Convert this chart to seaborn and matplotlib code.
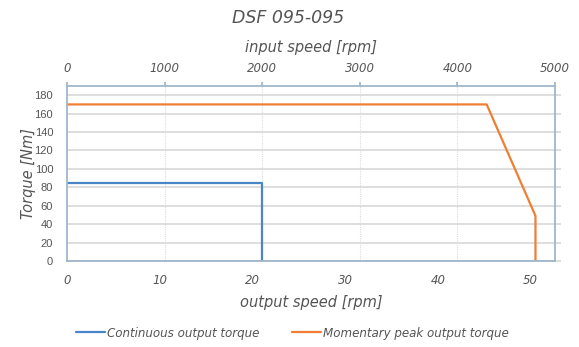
import matplotlib
matplotlib.use("Agg")
import matplotlib.pyplot as plt
import seaborn as sns
import pandas as pd
from matplotlib.lines import Line2D

sns.set_theme(style="white")
plt.rcParams['font.family'] = ['DejaVu Sans']

ratio = 95.0
cont_input = [0, 2000, 2000]
cont_torque = [85, 85, 0]
peak_input = [0, 4300, 4800, 4800]
peak_torque = [170, 170, 49, 0]
y_ticks = [0, 20, 40, 60, 80, 100, 120, 140, 160, 180]
top_ticks = [0, 1000, 2000, 3000, 4000, 5000]
bottom_ticks = [0, 10, 20, 30, 40, 50]
series_names = ["Continuous output torque", "Momentary peak output torque"]

df = pd.concat([
    pd.DataFrame({"input": cont_input, "torque": cont_torque, "series": series_names[0]}),
    pd.DataFrame({"input": peak_input, "torque": peak_torque, "series": series_names[1]}),
])

fig = plt.figure(figsize=(5.79, 3.47), dpi=100)
ax = fig.add_axes([67/579, 1-261/347, (555-67)/579, (261-86)/347])

blue = "#4787C7"
orange = "#F07E33"
txt = "#555555"
spine = "#9fb6cb"
ax.set_ylim(0, 190)
ax.set_xlim(0, 5000)
ax.set_yticks(y_ticks)
for t in y_ticks:
    ax.axhline(t, color="#d4d4d4", lw=1.1, zorder=0)
for t in top_ticks[1:-1]:
    ax.axvline(t, color="#dcdcdc", lw=0.8, ls=(0, (1, 1)), zorder=0)

sns.lineplot(data=df, x="input", y="torque", hue="series", units="series",
             estimator=None, sort=False, palette=[blue, orange], lw=1.6,
             ax=ax, legend=False)

for s in ax.spines.values():
    s.set_color(spine)
    s.set_linewidth(1.3)

ax.set_xlabel("")
ax.set_ylabel("Torque [Nm]", fontsize=10.5, style="italic", color=txt, labelpad=-1)
ax.tick_params(axis="y", left=False, right=True, length=4, color="#d4d4d4", width=1.1, pad=6)
ax.set_yticklabels([str(t) for t in y_ticks], family=["Liberation Sans"], fontsize=8, color=txt)

# top axis: input speed
ax.xaxis.set_ticks_position("top")
ax.xaxis.set_label_position("top")
ax.set_xticks(top_ticks)
ax.set_xticklabels([str(t) for t in top_ticks], style="italic", fontsize=8.5, color=txt)
ax.tick_params(axis="x", length=3, color=spine, pad=5)
ax.set_xlabel("input speed [rpm]", fontsize=10.5, style="italic", color=txt, labelpad=7)

# bottom axis: output speed
sec = ax.secondary_xaxis("bottom", functions=(lambda x: x / ratio, lambda x: x * ratio))
sec.set_xticks(bottom_ticks)
sec.set_xticklabels([str(t) for t in bottom_ticks], style="italic", fontsize=8.5, color=txt)
sec.tick_params(length=0, pad=9)
sec.spines["bottom"].set_visible(False)
sec.set_xlabel("output speed [rpm]", fontsize=10.5, style="italic", color=txt, labelpad=6)

fig.text(288/579, 1-18/347, "DSF 095-095", ha="center", va="center",
         fontsize=12.5, style="italic", color=txt)

handles = [Line2D([], [], color=blue, lw=1.6), Line2D([], [], color=orange, lw=1.6)]
fig.legend(handles, series_names,
           loc="center", bbox_to_anchor=(0.505, 1-333/347), ncol=2, frameon=False,
           prop={"style": "italic", "size": 8.6}, labelcolor=txt,
           handlelength=2.4, handletextpad=0.15, columnspacing=2.8)

fig.savefig("out.png", dpi=100)
